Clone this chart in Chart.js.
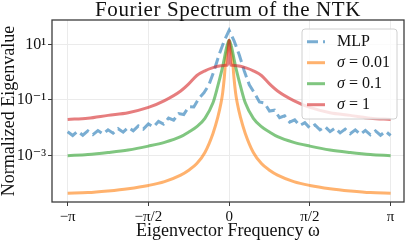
<!DOCTYPE html>
<html>
<head>
<meta charset="utf-8">
<script src="https://cdn.jsdelivr.net/npm/chart.js@4.4.1/dist/chart.umd.min.js"></script>
<style>
  html, body { margin: 0; padding: 0; background: #fff; }
  #chart { display: block; }
</style>
</head>
<body>
<canvas id="chart" width="407" height="244"></canvas>
<script>
// frequency grid, in units of pi
const sigmaOmega = [-1, -0.875, -0.75, -0.625, -0.5, -0.4, -0.3, -0.25, -0.2, -0.15, -0.1, -0.07, -0.05, -0.04, -0.03, -0.02, -0.01,
    0, 0.01, 0.02, 0.03, 0.04, 0.05, 0.07, 0.1, 0.15, 0.2, 0.25, 0.3, 0.4, 0.5, 0.625, 0.75, 0.875, 1];

const sigma001 = [4.5e-5, 4.7e-5, 5.4e-5, 6.5e-5, 8.5e-5, 1.17e-4, 2.0e-4, 3.0e-4, 5.2e-4, 1.3e-3, 6.3e-3, 0.024, 0.079, 0.18, 0.63, 3.2, 6.3,
    14, 6.3, 3.2, 0.63, 0.18, 0.079, 0.024, 6.3e-3, 1.3e-3, 5.2e-4, 3.0e-4, 2.0e-4, 1.17e-4, 8.5e-5, 6.5e-5, 5.4e-5, 4.7e-5, 4.5e-5];

const sigma01 = [1.0e-3, 1.1e-3, 1.3e-3, 1.6e-3, 2.2e-3, 3.0e-3, 4.8e-3, 7.1e-3, 0.011, 0.022, 0.079, 0.32, 0.9, 1.6, 3.0, 6.0, 10,
    14, 10, 6.0, 3.0, 1.6, 0.9, 0.32, 0.079, 0.022, 0.011, 7.1e-3, 4.8e-3, 3.0e-3, 2.2e-3, 1.6e-3, 1.3e-3, 1.1e-3, 1.0e-3];

const sigma1 = [0.020, 0.022, 0.028, 0.035, 0.054, 0.095, 0.21, 0.38, 0.76, 1.12, 1.45, 1.62, 1.70, 1.72, 1.74, 1.78, 1.78,
    14, 1.78, 1.78, 1.74, 1.72, 1.70, 1.62, 1.45, 1.12, 0.76, 0.38, 0.21, 0.095, 0.054, 0.035, 0.028, 0.022, 0.020];

const mlpOmega = [-1, -0.96875, -0.9375, -0.90625, -0.875, -0.84375, -0.8125, -0.78125, -0.75, -0.71875, -0.6875, -0.65625,
    -0.625, -0.59375, -0.5625, -0.53125, -0.5, -0.46875, -0.4375, -0.40625, -0.375, -0.34375, -0.3125, -0.28125,
    -0.25, -0.21875, -0.1875, -0.15625, -0.125, -0.09375, -0.0625, -0.03125, 0,
    0.03125, 0.0625, 0.09375, 0.125, 0.15625, 0.1875, 0.21875, 0.25, 0.28125, 0.3125, 0.34375, 0.375, 0.40625,
    0.4375, 0.46875, 0.5, 0.53125, 0.5625, 0.59375, 0.625, 0.65625, 0.6875, 0.71875, 0.75, 0.78125, 0.8125,
    0.84375, 0.875, 0.90625, 0.9375, 0.96875, 1];

const mlpValues = [0.0072, 0.0053, 0.0075, 0.0054, 0.0077, 0.0057, 0.0080, 0.0060, 0.0085, 0.0064, 0.0093, 0.0070,
    0.0103, 0.0078, 0.0118, 0.0090, 0.0138, 0.0108, 0.0170, 0.0136, 0.0225, 0.0188, 0.0325, 0.0300,
    0.057, 0.056, 0.115, 0.18, 0.35, 1.1, 4.2, 13, 32,
    13, 4.2, 1.1, 0.35, 0.18, 0.085, 0.078, 0.040, 0.043, 0.023, 0.027, 0.0160, 0.0192,
    0.0121, 0.0153, 0.0098, 0.0128, 0.0084, 0.0111, 0.0073, 0.0099, 0.0066, 0.0090, 0.0061, 0.0084,
    0.0058, 0.0081, 0.0056, 0.0077, 0.0054, 0.0075, 0.0053];

const chartTitle = 'Fourier Spectrum of the NTK';
const seriesLabels = ['MLP', 'σ = 0.01', 'σ = 0.1', 'σ = 1'];
const seriesColors = ['rgba(31,119,180,0.6)', 'rgba(255,127,14,0.6)', 'rgba(44,160,44,0.6)', 'rgba(214,39,40,0.6)'];

const xTickValues = [-1, -0.5, 0, 0.5, 1];
const xTickLabels = ['−π', '−π/2', '0', 'π/2', 'π'];
const yTickValues = [1e-3, 1e-1, 1e1];
const yTickLabels = ['10⁻³', '10⁻¹', '10¹'];

const SERIF = '"Liberation Serif", "DejaVu Serif", serif';

function points(xs, ys) {
    return xs.map((x, i) => ({ x: x, y: ys[i] }));
}

// title centred over the plot area, like matplotlib does
const axesTitle = {
    id: 'axesTitle',
    afterDraw(chart) {
        const { ctx, chartArea: a } = chart;
        ctx.save();
        ctx.font = '21px ' + SERIF;
        ctx.letterSpacing = '0.6px';
        ctx.fillStyle = '#111';
        ctx.textAlign = 'center';
        ctx.textBaseline = 'alphabetic';
        ctx.fillText(chartTitle, (a.left + a.right) / 2, 16);
        ctx.restore();
    }
};

const framePlugin = {
    id: 'frame',
    afterDatasetsDraw(chart) {
        const { ctx, chartArea: a } = chart;
        ctx.save();
        ctx.strokeStyle = '#3c3c3c';
        ctx.lineWidth = 1.3;
        ctx.strokeRect(a.left, a.top, a.right - a.left, a.bottom - a.top);
        ctx.restore();
    }
};

const boxLegend = {
    id: 'boxLegend',
    afterDraw(chart) {
        const { ctx, chartArea: a } = chart;
        const w = 95, h = 90;
        const left = a.right - 7 - w;
        const top = a.top + 9;
        ctx.save();
        ctx.beginPath();
        ctx.roundRect(left, top, w, h, 3);
        ctx.fillStyle = 'rgba(255,255,255,0.8)';
        ctx.fill();
        ctx.strokeStyle = '#d0d0d0';
        ctx.lineWidth = 1;
        ctx.stroke();

        chart.data.datasets.forEach((ds, i) => {
            const cy = top + 12.7 + i * 21;
            ctx.beginPath();
            ctx.setLineDash(ds.borderDash || []);
            ctx.strokeStyle = ds.borderColor;
            ctx.lineWidth = 3;
            ctx.moveTo(left + 5, cy);
            ctx.lineTo(left + 23, cy);
            ctx.stroke();
            ctx.setLineDash([]);

            ctx.fillStyle = '#111';
            ctx.textBaseline = 'middle';
            let tx = left + 35;
            let label = seriesLabels[i];
            if (label.startsWith('σ')) {
                ctx.font = 'italic 16px ' + SERIF;
                ctx.fillText('σ', tx, cy);
                tx += ctx.measureText('σ').width;
                label = label.slice(1);
            }
            ctx.font = '16px ' + SERIF;
            ctx.fillText(label, tx, cy);
        });
        ctx.restore();
    }
};

const ctx = document.getElementById('chart').getContext('2d');
const chart = new Chart(ctx, {
    type: 'line',
    data: {
        datasets: [
            {
                label: seriesLabels[0],
                data: points(mlpOmega, mlpValues),
                borderColor: seriesColors[0],
                borderWidth: 3,
                borderDash: [11, 5],
                tension: 0,
                order: 4
            },
            {
                label: seriesLabels[1],
                data: points(sigmaOmega, sigma001),
                borderColor: seriesColors[1],
                borderWidth: 3,
                cubicInterpolationMode: 'monotone',
                order: 3
            },
            {
                label: seriesLabels[2],
                data: points(sigmaOmega, sigma01),
                borderColor: seriesColors[2],
                borderWidth: 3,
                cubicInterpolationMode: 'monotone',
                order: 2
            },
            {
                label: seriesLabels[3],
                data: points(sigmaOmega, sigma1),
                borderColor: seriesColors[3],
                borderWidth: 3,
                cubicInterpolationMode: 'monotone',
                order: 1
            }
        ]
    },
    options: {
        responsive: false,
        animation: false,
        devicePixelRatio: 1,
        elements: { point: { radius: 0 } },
        layout: { padding: { left: 0, right: 3, top: 20, bottom: 0 } },
        plugins: {
            legend: { display: false },
            tooltip: { enabled: false },
            title: { display: false }
        },
        scales: {
            x: {
                type: 'linear',
                min: -1.097,
                max: 1.083,
                afterBuildTicks: s => { s.ticks = xTickValues.map(v => ({ value: v })); },
                afterFit: s => { s.height = 42; },
                ticks: {
                    callback: (v, i) => xTickLabels[i],
                    color: '#111',
                    font: { family: SERIF, size: 15 },
                    padding: 2,
                    maxRotation: 0,
                    autoSkip: false
                },
                grid: { color: '#ebebeb', tickColor: '#3c3c3c', tickLength: 4 },
                border: { display: false },
                title: {
                    display: true,
                    text: 'Eigenvector Frequency ω',
                    color: '#111',
                    font: { family: SERIF, size: 18, lineHeight: 1 },
                    padding: { top: 0, bottom: 4 }
                }
            },
            y: {
                type: 'logarithmic',
                min: 2.16e-5,
                max: 74.8,
                afterBuildTicks: s => { s.ticks = yTickValues.map(v => ({ value: v })); },
                afterFit: s => { s.width = 52; },
                ticks: {
                    callback: (v, i) => yTickLabels[i],
                    color: '#111',
                    font: { family: SERIF, size: 16 },
                    padding: 2
                },
                grid: { color: '#ebebeb', tickColor: '#3c3c3c', tickLength: 4 },
                border: { display: false },
                title: {
                    display: true,
                    text: 'Normalized Eigenvalue',
                    color: '#111',
                    font: { family: SERIF, size: 18, lineHeight: 1 },
                    padding: { top: 0, bottom: 0 }
                }
            }
        }
    },
    plugins: [framePlugin, boxLegend, axesTitle]
});
</script>
</body>
</html>
